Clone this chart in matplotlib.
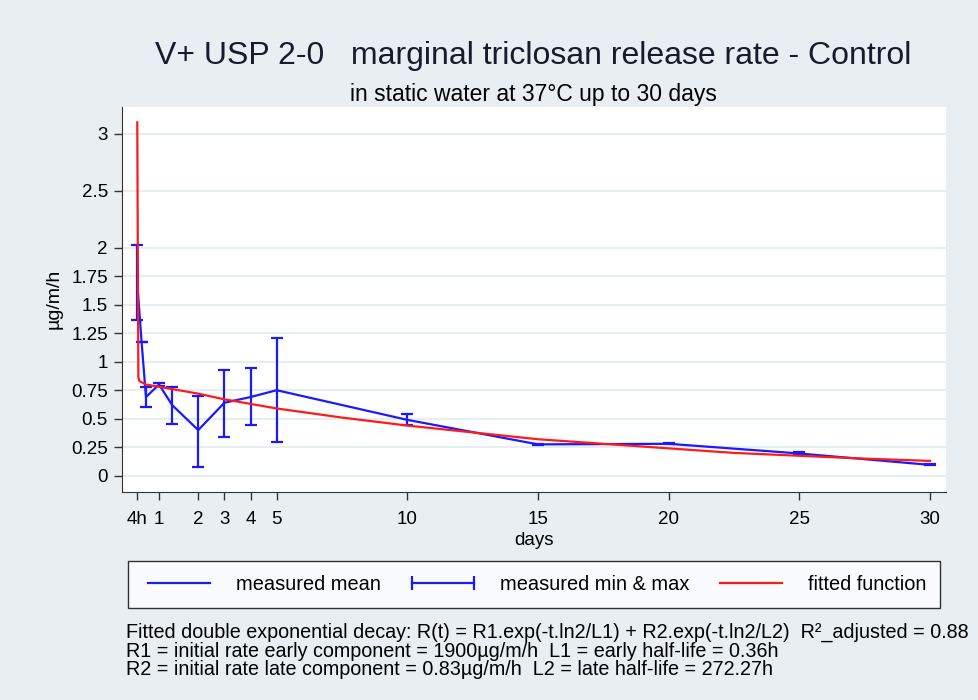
import matplotlib.pyplot as plt
from matplotlib.lines import Line2D

plt.rcParams['font.family'] = ['Liberation Sans', 'DejaVu Sans']

# sampling times in hours, measured values (ug/m/h)
hours = [4, 8, 12, 24, 36, 60, 84, 108, 132, 252, 372, 492, 612, 732]
mean_rate = [1.69, 1.17, 0.69, 0.80, 0.62, 0.40, 0.64, 0.69, 0.75, 0.49, 0.275, 0.28, 0.195, 0.095]
min_rate = [1.37, 1.17, 0.605, 0.79, 0.45, 0.08, 0.34, 0.445, 0.295, 0.445, 0.27, 0.275, 0.19, 0.09]
max_rate = [2.02, 1.17, 0.775, 0.81, 0.78, 0.70, 0.93, 0.945, 1.21, 0.54, 0.28, 0.285, 0.21, 0.10]

# fitted double exponential
fit_hours = [4, 5, 6, 12, 24, 36, 60, 84, 108, 132, 192, 252, 312, 372, 432, 492, 552, 612, 672, 732]
fit_rate = [3.10, 0.86, 0.83, 0.80, 0.78, 0.76, 0.72, 0.67, 0.63, 0.59, 0.51, 0.44, 0.38, 0.32,
            0.28, 0.24, 0.20, 0.175, 0.15, 0.13]

xtick_pos = [4, 24, 60, 84, 108, 132, 252, 372, 492, 612, 732]
xtick_labels = ['4h', '1', '2', '3', '4', '5', '10', '15', '20', '25', '30']
ytick_pos = [0, 0.25, 0.5, 0.75, 1, 1.25, 1.5, 1.75, 2, 2.5, 3]
ytick_labels = ['0', '0.25', '0.5', '0.75', '1', '1.25', '1.5', '1.75', '2', '2.5', '3']

bg = '#e8eef1'
fig = plt.figure(figsize=(9.79, 7), dpi=100, facecolor=bg)
ax = fig.add_axes([0.1243, 0.2976, 0.8420, 0.5500])
ax.set_facecolor('white')

ax.plot(hours, mean_rate, color='#1a1aff', lw=1.6, zorder=3)
lo = [m - a for m, a in zip(mean_rate, min_rate)]
hi = [b - m for m, b in zip(mean_rate, max_rate)]
ax.errorbar(hours, mean_rate, yerr=[lo, hi], fmt='none', ecolor='#1a1aff',
            elinewidth=1.6, capsize=4.3, capthick=1.6, zorder=3)
ax.plot(fit_hours, fit_rate, color='#ff1a1a', lw=1.6, zorder=4)

ax.set_xlim(-10.3, 746.7)
ax.set_ylim(-0.14, 3.237)
ax.set_xticks(xtick_pos, xtick_labels, fontsize=13.5)
ax.set_yticks(ytick_pos, ytick_labels, fontsize=13.5)
ax.tick_params(length=6, width=1, color='#333333')
ax.tick_params(axis='x', pad=8)
ax.tick_params(axis='y', pad=4)
ax.grid(axis='y', color='#e6eef2', lw=1.5)
ax.set_axisbelow(True)
for s in ['top', 'right']:
    ax.spines[s].set_visible(False)
for s in ['left', 'bottom']:
    ax.spines[s].set_color('#333333')

ax.set_xlabel('days', fontsize=13.5, labelpad=3)
ax.set_ylabel('µg/m/h', fontsize=14, labelpad=6)

fig.text(0.5445, 0.9197, 'V+ USP 2-0   marginal triclosan release rate - Control',
         ha='center', va='center', fontsize=23, color='#1a1a2e')
fig.text(0.5445, 0.8647, 'in static water at 37°C up to 30 days',
         ha='center', va='center', fontsize=16.5)

handles = [
    Line2D([], [], color='#1a1aff', lw=1.6),
    Line2D([], [], color='#1a1aff', lw=1.6, marker='|', markersize=10, markeredgewidth=1.6),
    Line2D([], [], color='#ff1a1a', lw=1.6),
]
leg = fig.legend(handles, ['measured mean', 'measured min & max', 'fitted function'],
                 loc='center', bbox_to_anchor=(0.1307, 0.1330, 0.8294, 0.063),
                 mode='expand', ncol=3, numpoints=2, fontsize=14.4, handlelength=3.7,
                 frameon=True, fancybox=False, borderaxespad=0, edgecolor='black',
                 handletextpad=1.0, borderpad=0.7)
leg.get_frame().set_linewidth(1.0)

note = ('Fitted double exponential decay: R(t) = R1.exp(-t.ln2/L1) + R2.exp(-t.ln2/L2)  R²_adjusted = 0.88\n'
        'R1 = initial rate early component = 1900µg/m/h  L1 = early half-life = 0.36h\n'
        'R2 = initial rate late component = 0.83µg/m/h  L2 = late half-life = 272.27h')
fig.text(0.129, 0.110, note, ha='left', va='top', fontsize=14.2, linespacing=0.97)

fig.savefig('out.png', dpi=100, facecolor=bg)
